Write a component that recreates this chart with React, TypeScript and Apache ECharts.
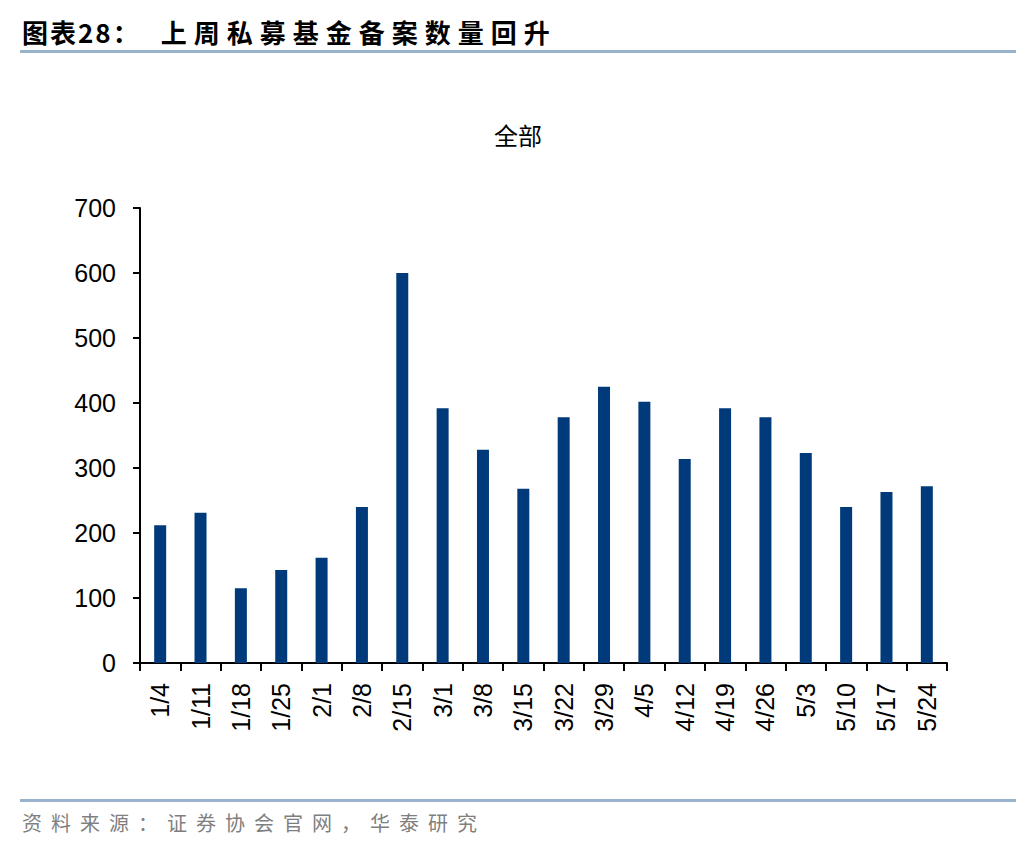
import React, { useEffect, useRef } from "react";
import * as echarts from "echarts";

const categories = ["1/4","1/11","1/18","1/25","2/1","2/8","2/15","3/1","3/8","3/15","3/22","3/29","4/5","4/12","4/19","4/26","5/3","5/10","5/17","5/24"];
const values = [212, 231, 115, 143, 162, 240, 600, 392, 328, 268, 378, 425, 402, 314, 392, 378, 323, 240, 263, 272];
const yTicks = [0, 100, 200, 300, 400, 500, 600, 700];

const titleLabel = "图表28：";
const titleText = "上周私募基金备案数量回升";
const chartTitle = "全部";
const sourceText = "资料来源：证券协会官网，华泰研究";

const cjk = "'Noto Sans CJK SC', sans-serif";

export default function App() {
  const ref = useRef<HTMLDivElement>(null);
  useEffect(() => {
    if (!ref.current) return;
    const chart = echarts.init(ref.current, null, { renderer: "svg" });
    chart.setOption({
      animation: false,
      backgroundColor: "#ffffff",
      graphic: [
        {
          type: "rect",
          shape: { x: 20, y: 50, width: 996, height: 3 },
          style: { fill: "#9AB3CC" },
        },
        {
          type: "text",
          left: "center",
          top: 122,
          style: { text: chartTitle, font: "24px 'Noto Sans CJK SC'", fill: "#000" },
        },
        {
          type: "rect",
          shape: { x: 20, y: 799, width: 996, height: 3 },
          style: { fill: "#9AB3CC" },
        },
      ],
      grid: { left: 140, right: 89, top: 208, bottom: 189, containLabel: false },
      xAxis: {
        type: "category",
        data: categories,
        axisLine: { lineStyle: { color: "#000", width: 2 } },
        axisTick: { show: true, length: 8, alignWithLabel: false, lineStyle: { color: "#000", width: 2 } },
        axisLabel: {
          rotate: 90,
          interval: 0,
          margin: 20,
          color: "#000",
          fontSize: 25,
          fontFamily: "'Liberation Sans', Arial, sans-serif",
        },
      },
      yAxis: {
        type: "value",
        min: 0,
        max: 700,
        interval: 100,
        axisLine: { show: true, lineStyle: { color: "#000", width: 2 } },
        axisTick: { show: true, length: 7, lineStyle: { color: "#000", width: 2 } },
        splitLine: { show: false },
        axisLabel: {
          color: "#000",
          fontSize: 25,
          margin: 24,
          fontFamily: "'Liberation Sans', Arial, sans-serif",
          formatter: (v: number) => (yTicks.includes(v) ? String(v) : ""),
        },
      },
      series: [
        {
          type: "bar",
          data: values,
          barWidth: 12,
          itemStyle: { color: "#003A7A" },
        },
      ],
    });
    return () => chart.dispose();
  }, []);
  return (
    <div style={{ position: "relative", width: 1036, height: 852, margin: -8 }}>
      <div ref={ref} style={{ position: "absolute", left: 0, top: 0, width: 1036, height: 852 }} />
      <div
        style={{
          position: "absolute",
          left: 22,
          top: 14,
          height: 36,
          lineHeight: "36px",
          whiteSpace: "nowrap",
          fontFamily: cjk,
          fontWeight: 700,
          fontSize: 26,
          color: "#000",
        }}
      >
        <span style={{ letterSpacing: 2 }}>{titleLabel}</span>
        <span style={{ marginLeft: 20, letterSpacing: 7 }}>{titleText}</span>
      </div>
      <div
        style={{
          position: "absolute",
          left: 22,
          top: 808,
          height: 30,
          lineHeight: "30px",
          whiteSpace: "nowrap",
          fontFamily: cjk,
          fontSize: 20,
          letterSpacing: 9,
          color: "#7f7f7f",
        }}
      >
        {sourceText}
      </div>
    </div>
  );
}
